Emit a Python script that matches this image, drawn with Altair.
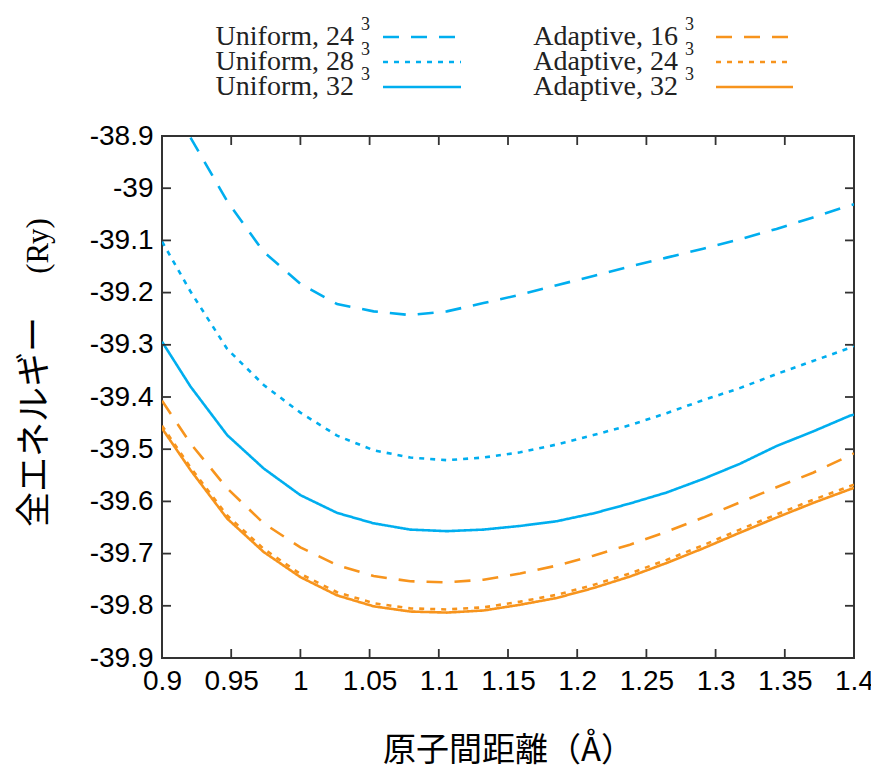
import altair as alt
import pandas as pd

# ---- data ----
x_bond = [0.9, 0.9206, 0.9471, 0.9735, 1.0, 1.0265, 1.0529, 1.0794, 1.1058, 1.1323,
          1.1588, 1.1852, 1.2117, 1.2381, 1.2646, 1.2910, 1.3175, 1.3440, 1.3704, 1.3969, 1.4]

# Uniform 24^3 enters the frame at the top edge (first point lies at 0.9206)
uniform_24 = [-38.903, -39.025, -39.122, -39.183, -39.222, -39.236, -39.243, -39.236, -39.220,
              -39.204, -39.186, -39.168, -39.150, -39.133, -39.116, -39.098, -39.078, -39.056,
              -39.033, -39.031]
uniform_28 = [-39.102, -39.198, -39.308, -39.377, -39.430, -39.474, -39.502, -39.516, -39.521,
              -39.516, -39.506, -39.491, -39.473, -39.454, -39.431, -39.406, -39.383, -39.356,
              -39.331, -39.306, -39.302]
uniform_32 = [-39.294, -39.380, -39.473, -39.537, -39.588, -39.622, -39.642, -39.654, -39.657,
              -39.654, -39.647, -39.638, -39.623, -39.604, -39.583, -39.557, -39.528, -39.494,
              -39.466, -39.436, -39.434]
adaptive_16 = [-39.407, -39.489, -39.575, -39.642, -39.688, -39.722, -39.743, -39.753, -39.755,
               -39.750, -39.738, -39.723, -39.704, -39.683, -39.658, -39.631, -39.602, -39.573,
               -39.545, -39.512, -39.508]
adaptive_24 = [-39.455, -39.535, -39.627, -39.691, -39.739, -39.774, -39.795, -39.805, -39.807,
               -39.803, -39.792, -39.779, -39.760, -39.738, -39.712, -39.684, -39.654, -39.625,
               -39.597, -39.571, -39.568]
adaptive_32 = [-39.460, -39.540, -39.633, -39.697, -39.745, -39.780, -39.801, -39.811, -39.813,
               -39.809, -39.798, -39.785, -39.766, -39.744, -39.718, -39.690, -39.660, -39.631,
               -39.603, -39.577, -39.574]

series_names = ["Uniform, 24", "Uniform, 28", "Uniform, 32",
                "Adaptive, 16", "Adaptive, 24", "Adaptive, 32"]
series_values = [uniform_24, uniform_28, uniform_32, adaptive_16, adaptive_24, adaptive_32]

x_ticks = [0.9, 0.95, 1.0, 1.05, 1.1, 1.15, 1.2, 1.25, 1.3, 1.35, 1.4]
y_ticks = [-38.9, -39.0, -39.1, -39.2, -39.3, -39.4, -39.5, -39.6, -39.7, -39.8, -39.9]

# ---- styles ----
BLUE = "#00AEEF"
ORANGE = "#F7941D"
series_colors = [BLUE, BLUE, BLUE, ORANGE, ORANGE, ORANGE]
DASH = [16, 12]
DOT = [5, 6]
SOLID = [1, 0]
series_dashes = [DASH, DOT, SOLID, DASH, DOT, SOLID]

W, H = 692, 522
FRAME = "#333333"
SANS = "Liberation Sans"
SERIF = "Liberation Serif"
CJK = "Noto Sans CJK JP"

rows = []
for name, ys in zip(series_names, series_values):
    xs = x_bond[len(x_bond) - len(ys):]
    for xv, yv in zip(xs, ys):
        rows.append({"series": name, "x": xv, "y": yv})
df = pd.DataFrame(rows)

x_scale = alt.Scale(domain=[0.9, 1.4], nice=False, zero=False)
y_scale = alt.Scale(domain=[-39.9, -38.9], nice=False, zero=False)

lines = alt.Chart(df).mark_line(strokeWidth=2.6, clip=True).encode(
    x=alt.X("x:Q", scale=x_scale, title="原子間距離（Å）",
            axis=alt.Axis(values=x_ticks, ticks=False, domain=False, grid=False,
                          labelExpr="format(datum.value, '.2~f')",
                          labelFont=SANS, labelFontSize=28, labelColor="black",
                          labelPadding=9, labelFlush=False, labelOverlap=False,
                          titleFont=CJK, titleFontSize=33, titleFontWeight="normal",
                          titleColor="black", titleX=W / 2, titleY=92,
                          titleAlign="center", titleBaseline="middle")),
    y=alt.Y("y:Q", scale=y_scale, title=None,
            axis=alt.Axis(values=y_ticks, ticks=False, domain=False, grid=False,
                          labelExpr="replace(format(datum.value, '.1~f'), '\u2212', '-')",
                          labelFont=SANS, labelFontSize=28, labelColor="black",
                          labelPadding=9, labelFlush=False, labelOverlap=False)),
    color=alt.Color("series:N", scale=alt.Scale(domain=series_names, range=series_colors),
                    legend=None),
    strokeDash=alt.StrokeDash("series:N",
                              scale=alt.Scale(domain=series_names, range=series_dashes),
                              legend=None),
)

# inward ticks on all four sides
ydf = pd.DataFrame({"v": y_ticks})
xdf = pd.DataFrame({"v": x_ticks})
TL = 9
tick_style = dict(color=FRAME, strokeWidth=1.8)
left_ticks = alt.Chart(ydf).mark_rule(**tick_style).encode(
    y=alt.Y("v:Q", scale=y_scale, axis=None), x=alt.value(0), x2=alt.value(TL))
right_ticks = alt.Chart(ydf).mark_rule(**tick_style).encode(
    y=alt.Y("v:Q", scale=y_scale, axis=None), x=alt.value(W - TL), x2=alt.value(W))
bottom_ticks = alt.Chart(xdf).mark_rule(**tick_style).encode(
    x=alt.X("v:Q", scale=x_scale, axis=None), y=alt.value(H - TL), y2=alt.value(H))
top_ticks = alt.Chart(xdf).mark_rule(**tick_style).encode(
    x=alt.X("v:Q", scale=x_scale, axis=None), y=alt.value(0), y2=alt.value(TL))

# y-axis title: Japanese part in gothic, unit in serif
one = alt.Data(values=[{"k": 1}])
ytitle_jp = alt.Chart(one).mark_text(
    text="全エネルギー", angle=270, align="center", baseline="middle",
    font=CJK, fontSize=35, color="black").encode(x=alt.value(-127), y=alt.value(286))
ytitle_unit = alt.Chart(one).mark_text(
    text="(Ry)", angle=270, align="center", baseline="middle",
    font=SERIF, fontSize=31, color="black").encode(x=alt.value(-123), y=alt.value(110))

# hand-built legend (labels left of line samples, two columns)
legend_layers = []
col_text_end = [192, 516]
col_rule = [(221, 299), (554, 631)]
row_y = [-99, -74, -49]
for i, (name, dash, colr) in enumerate(zip(series_names, series_dashes, series_colors)):
    c, r = i // 3, i % 3
    yv = row_y[r]
    legend_layers.append(alt.Chart(one).mark_text(
        text=name, align="right", baseline="middle", font=SERIF, fontSize=28,
        color="#222222").encode(x=alt.value(col_text_end[c]), y=alt.value(yv)))
    legend_layers.append(alt.Chart(one).mark_text(
        text="3", align="left", baseline="middle", font=SERIF, fontSize=18,
        color="#222222").encode(x=alt.value(col_text_end[c] + 7), y=alt.value(yv - 12)))
    legend_layers.append(alt.Chart(one).mark_rule(
        color=colr, strokeWidth=2.6, strokeDash=dash).encode(
        x=alt.value(col_rule[c][0]), x2=alt.value(col_rule[c][1]), y=alt.value(yv)))

chart = alt.layer(
    lines, left_ticks, right_ticks, bottom_ticks, top_ticks,
    ytitle_jp, ytitle_unit, *legend_layers
).resolve_axis(
    x="independent", y="independent"
).properties(
    width=W, height=H,
    autosize=alt.AutoSizeParams(type="none"),
    padding={"left": 154, "top": 128, "right": 17, "bottom": 110},
).configure_view(stroke=FRAME, strokeWidth=2)

chart.save("out.html", embed_options={"renderer": "svg", "actions": False})
